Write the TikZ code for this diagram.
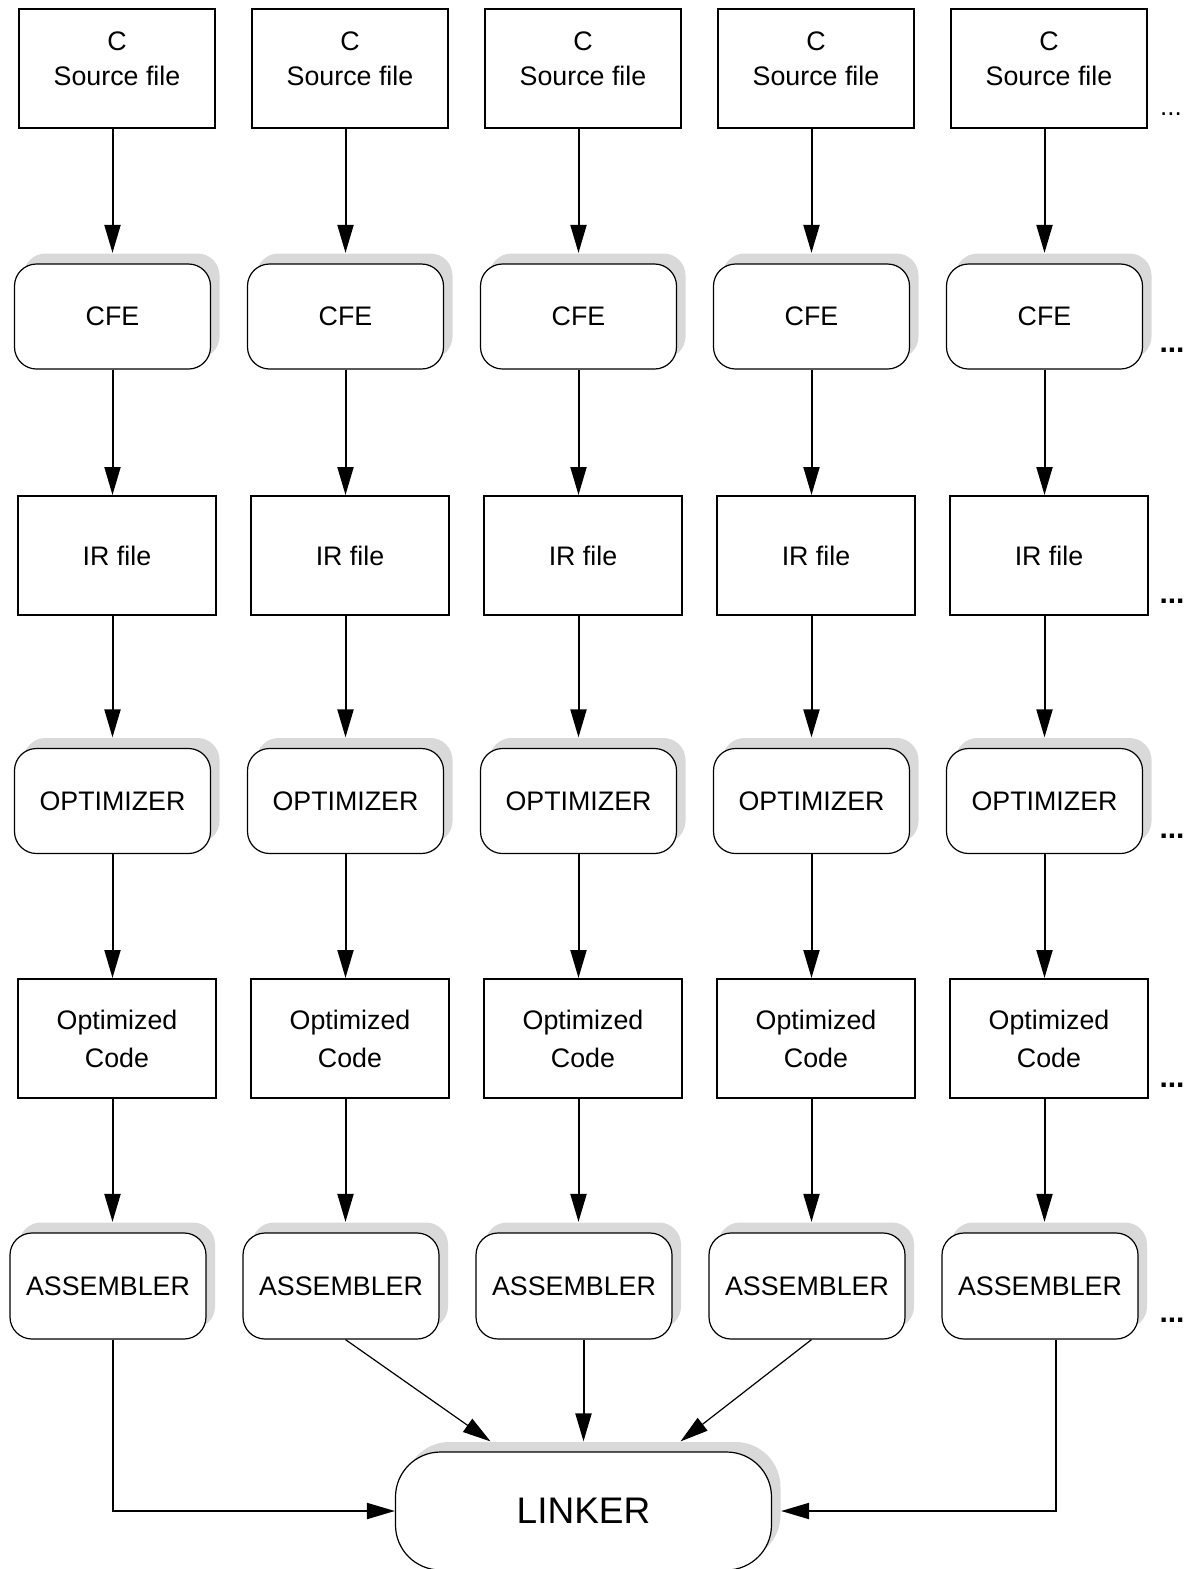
\documentclass[tikz,border=0pt]{standalone}
\usepackage{fontspec}
\setmainfont{Liberation Sans}
\usetikzlibrary{arrows.meta,shadows,calc}
\definecolor{shadowgray}{RGB}{217,217,217}
\begin{document}
\begin{tikzpicture}[x=1pt,y=-1pt,
  every node/.style={font=\fontsize{26.8}{35}\selectfont},
  filebox/.style={draw, line width=2pt, minimum width=198pt, minimum height=119pt, inner sep=0pt},
  toolbox/.style={draw, line width=1.2pt, rounded corners=22pt, minimum width=196pt,
    minimum height=105pt, inner sep=0pt, fill=white,
    drop shadow={shadow xshift=9pt, shadow yshift=10.5pt, fill=shadowgray, opacity=1}},
  flow/.style={line width=2pt, -{Triangle[length=28pt,width=16pt]}},
  thinflow/.style={line width=1.2pt, -{Triangle[length=28pt,width=16pt]}},
  intool/.style={shorten >=10.5pt},
  moredots/.style={font=\fontsize{30}{32}\selectfont\bfseries, inner sep=0pt},
]
\useasboundingbox (0,0) rectangle (1186,1569);

% five identical compilation pipelines
\foreach \i in {1,...,5}{
  \pgfmathsetmacro\xr{117+233*(\i-1)}
  \pgfmathsetmacro\xt{112.5+233*(\i-1)}
  \pgfmathsetmacro\xa{108+233*(\i-1)}
  \coordinate (ax\i) at (\xt,0);
  \node[filebox, minimum width=196pt] (src\i) at (\xr,68.5) {};
  \node[align=center, inner sep=0pt] (srctext\i) at ($(src\i.center)+(0,-9.5)$) {C\\Source file};
  \node[toolbox] (cfe\i) at (\xt,316.5) {CFE};
  \node[filebox] (ir\i) at (\xr,555.5) {IR file};
  \node[toolbox] (opt\i) at (\xt,801) {OPTIMIZER};
  \node[filebox, align=center, font=\fontsize{26.8}{38}\selectfont] (oc\i) at (\xr,1038.5) {Optimized\\Code};
  \node[toolbox, minimum height=106pt] (asm\i) at (\xa,1286) {ASSEMBLER};

  \draw[flow, intool] (src\i.south -| ax\i) -- (cfe\i.north);
  \draw[flow] (cfe\i.south) -- (ir\i.north -| ax\i);
  \draw[flow, intool] (ir\i.south -| ax\i) -- (opt\i.north);
  \draw[flow] (opt\i.south) -- (oc\i.north -| ax\i);
  \draw[flow, intool] (oc\i.south -| ax\i) -- (asm\i.north -| ax\i);
}

% the linker collecting all object files
\node[draw, line width=1.2pt, rounded corners=45pt, minimum width=376pt, minimum height=118pt,
  fill=white, font=\fontsize{37}{40}\selectfont,
  drop shadow={shadow xshift=9pt, shadow yshift=10pt, fill=shadowgray, opacity=1}]
  (lnk) at (583.5,1511) {LINKER};

\draw[flow] (asm1.south -| ax1) |- (lnk.west);
\draw[thinflow] (asm2.south -| ax2) -- ($(lnk.north)+(-93,-10)$);
\draw[flow, shorten >=10pt] (asm3.south -| lnk.north) -- (lnk.north);
\draw[thinflow] (asm4.south -| ax4) -- ($(lnk.north)+(97,-10)$);
\draw[flow] ([xshift=16pt]asm5.south) |- ([xshift=9pt]lnk.east);

% continuation marks to the right of the last column
\node[font=\fontsize{26}{28}\selectfont, inner sep=0pt] (more1) at (1171,114) {...};
\node[moredots] (more2) at (1172,350) {...};
\node[moredots] (more3) at (1172,601) {...};
\node[moredots] (more4) at (1172,836) {...};
\node[moredots] (more5) at (1172,1085) {...};
\node[moredots] (more6) at (1172,1320) {...};
\end{tikzpicture}
\end{document}
